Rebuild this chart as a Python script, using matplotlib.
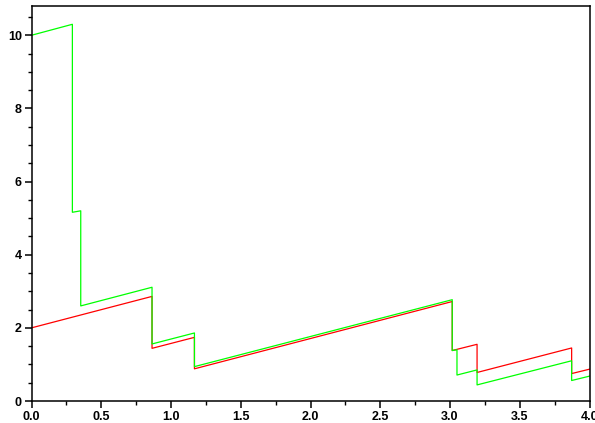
import matplotlib
matplotlib.use("Agg")
import matplotlib.pyplot as plt
from matplotlib.ticker import MultipleLocator

# Red series (sawtooth with drops)
red_x = [0.0, 0.864, 0.864, 1.168, 1.168, 3.016, 3.016, 3.194, 3.194, 3.872, 3.872, 4.0]
red_y = [2.0, 2.86, 1.44, 1.74, 0.88, 2.72, 1.38, 1.55, 0.78, 1.45, 0.75, 0.87]

# Green series
green_x = [0.0, 0.293, 0.293, 0.353, 0.353, 0.864, 0.864, 1.168, 1.168, 3.016, 3.016,
           3.05, 3.05, 3.194, 3.194, 3.872, 3.872, 4.0]
green_y = [10.0, 10.3, 5.16, 5.2, 2.6, 3.11, 1.56, 1.86, 0.94, 2.77, 1.38,
           1.40, 0.71, 0.85, 0.44, 1.10, 0.56, 0.68]

plt.rcParams['font.family'] = ['Liberation Sans', 'DejaVu Sans']

fig = plt.figure(figsize=(5.95, 4.23), dpi=100)
ax = fig.add_axes([31.5 / 595, 22 / 423, 558 / 595, 395 / 423])

ax.plot(red_x, red_y, color='#ff0000', lw=0.9)
ax.plot(green_x, green_y, color='#00ff00', lw=0.9)

ax.set_xlim(0, 4)
ax.set_ylim(0, 10.8)
ax.xaxis.set_major_locator(MultipleLocator(0.5))
ax.xaxis.set_minor_locator(MultipleLocator(0.25))
ax.yaxis.set_major_locator(MultipleLocator(2))
ax.yaxis.set_minor_locator(MultipleLocator(0.5))
ax.xaxis.set_major_formatter(matplotlib.ticker.FormatStrFormatter('%.1f'))

for s in ax.spines.values():
    s.set_linewidth(1.1)
ax.tick_params(which='major', direction='out', length=5, width=1.1, pad=2,
               labelsize=9, top=False, right=False)
ax.tick_params(which='minor', direction='out', length=2.8, width=1.0,
               top=False, right=False)
for lab in ax.get_xticklabels() + ax.get_yticklabels():
    lab.set_fontweight('bold')

fig.savefig('out.png', dpi=100)
